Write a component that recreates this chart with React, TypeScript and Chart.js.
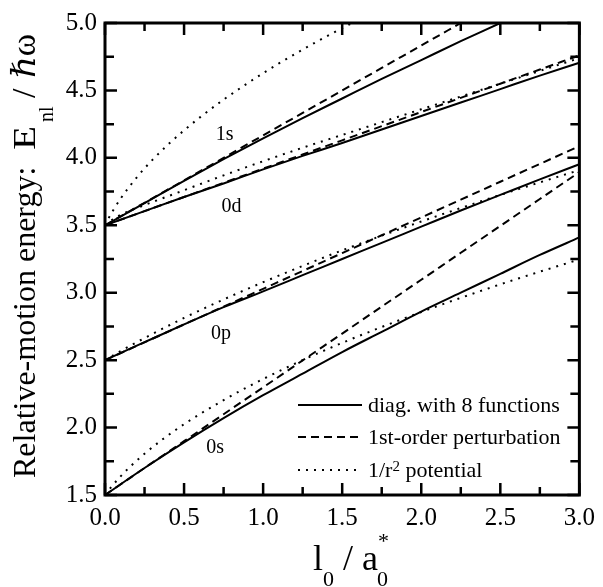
import React, { useEffect, useRef } from 'react';
import { Chart, registerables } from 'chart.js';

Chart.register(...registerables);

// ---------- data ----------
const X_GRID = [0, 0.25, 0.5, 0.75, 1, 1.25, 1.5, 1.75, 2, 2.25, 2.5, 2.75, 3];

// diag. with 8 functions (solid)
const DIAG_0S = [1.5, 1.7, 1.89, 2.07, 2.24, 2.4, 2.56, 2.71, 2.86, 3.0, 3.14, 3.28, 3.41];
const DIAG_0P = [2.5, 2.633, 2.765, 2.893, 3.01, 3.13, 3.25, 3.37, 3.49, 3.61, 3.725, 3.84, 3.953];
const DIAG_0D = [3.5, 3.605, 3.71, 3.81, 3.915, 4.015, 4.11, 4.21, 4.31, 4.41, 4.51, 4.61, 4.705];
const DIAG_1S = [3.5, 3.665, 3.83, 3.99, 4.145, 4.295, 4.44, 4.585, 4.725, 4.865, 5.0, 5.14, 5.28];

// 1st-order perturbation (dashed)
const PERT_0S = [1.5, 1.7, 1.899, 2.099, 2.298, 2.498, 2.697, 2.897, 3.096, 3.296, 3.495, 3.695, 3.894];
const PERT_0P = [2.5, 2.632, 2.765, 2.897, 3.029, 3.161, 3.294, 3.426, 3.558, 3.69, 3.823, 3.955, 4.087];
const PERT_0D = [3.5, 3.605, 3.71, 3.815, 3.92, 4.025, 4.13, 4.235, 4.34, 4.445, 4.55, 4.655, 4.76];
const PERT_1S = [3.5, 3.667, 3.833, 4.0, 4.167, 4.333, 4.5, 4.667, 4.833, 5.0, 5.167, 5.333, 5.5];

// 1/r^2 potential (dotted)
const POT_0S_X = [0, 0.02, 0.05, 0.1, 0.15, 0.25, 0.375, 0.5, 0.75, 1.0, 1.25, 1.5, 1.75, 2.0, 2.25, 2.5, 2.75, 3.0];
const POT_0S_Y = [1.5, 1.531, 1.574, 1.64, 1.7, 1.806, 1.922, 2.025, 2.204, 2.36, 2.5, 2.628, 2.746, 2.857, 2.962, 3.062, 3.156, 3.247];
const POT_0P_X = [0, 0.1, 0.25, 0.5, 0.75, 1.0, 1.25, 1.5, 1.75, 2.0, 2.25, 2.5, 2.75, 3.0];
const POT_0P_Y = [2.5, 2.568, 2.664, 2.813, 2.95, 3.078, 3.199, 3.314, 3.423, 3.528, 3.628, 3.725, 3.818, 3.909];
const POT_0D_X = [0, 0.05, 0.1, 0.15, 0.25, 0.5, 0.75, 1.0, 1.25, 1.5, 1.75, 2.0, 2.25, 2.5, 2.75, 3.0];
const POT_0D_Y = [3.5, 3.545, 3.578, 3.605, 3.65, 3.76, 3.87, 3.975, 4.075, 4.17, 4.265, 4.36, 4.455, 4.55, 4.645, 4.74];
const POT_1S_X = [0, 0.02, 0.05, 0.1, 0.2, 0.3, 0.4, 0.5, 0.6, 0.75, 0.9, 1.0, 1.1, 1.25, 1.4, 1.5, 1.6];
const POT_1S_Y = [3.5, 3.546, 3.608, 3.7, 3.854, 3.985, 4.1, 4.204, 4.3, 4.432, 4.552, 4.628, 4.7, 4.803, 4.9, 4.962, 5.022];

// state labels
const STATE_LABELS = ['1s', '0d', '0p', '0s'];
const STATE_LABEL_X = [0.7, 0.7375, 0.67, 0.64];
const STATE_LABEL_Y = [4.136, 3.602, 2.66, 1.808];

// legend
const LEGEND_LABELS = ['diag. with 8 functions', '1st-order perturbation', '1/r\u00B2 potential'];

const X_MIN = 0, X_MAX = 3, Y_MIN = 1.5, Y_MAX = 5;

// ---------- styles ----------
const SERIF = '"Liberation Serif", "Times New Roman", "DejaVu Serif", serif';
const f = (size: number) => `${size}px ${SERIF}`;
const DASH_SOLID: number[] = [];
const DASH_DASHED = [8, 5];
const DASH_DOTTED = [2, 6];
const LEGEND_DASHES = [DASH_SOLID, DASH_DASHED, DASH_DOTTED];

const isMajor = (v: number) => Math.abs(v * 2 - Math.round(v * 2)) < 1e-6;

const pts = (xs: number[], ys: number[]) => xs.map((x, i) => ({ x, y: ys[i] }));

function mkDataset(label: string, data: { x: number; y: number }[], dash: number[]) {
  return {
    label,
    data,
    borderColor: '#000',
    backgroundColor: '#000',
    borderWidth: 2,
    borderDash: dash,
    pointRadius: 0,
    fill: false,
    cubicInterpolationMode: 'monotone' as const,
  };
}

function drawFit(ctx: CanvasRenderingContext2D, text: string, x: number, y: number, size: number, targetW?: number) {
  ctx.font = f(size);
  const w = ctx.measureText(text).width;
  const sx = targetW ? targetW / w : 1;
  ctx.save();
  ctx.translate(x, y);
  ctx.scale(sx, 1);
  ctx.fillText(text, 0, 0);
  ctx.restore();
}

const decorPlugin = {
  id: 'decor',
  afterDraw(chart: any) {
    const ctx = chart.ctx as CanvasRenderingContext2D;
    const { left, right, top, bottom } = chart.chartArea;
    const xs = chart.scales.x;
    const ys = chart.scales.y;
    ctx.save();
    ctx.strokeStyle = '#000';
    ctx.fillStyle = '#000';
    ctx.setLineDash([]);

    // inward ticks on all four sides
    ctx.lineWidth = 2.5;
    ctx.beginPath();
    for (const t of xs.ticks) {
      const p = xs.getPixelForValue(t.value);
      const len = isMajor(t.value) ? 12 : 8;
      ctx.moveTo(p, bottom);
      ctx.lineTo(p, bottom - len);
      ctx.moveTo(p, top);
      ctx.lineTo(p, top + len);
    }
    for (const t of ys.ticks) {
      const p = ys.getPixelForValue(t.value);
      const len = isMajor(t.value) ? 12 : 9;
      ctx.moveTo(left, p);
      ctx.lineTo(left + len, p);
      ctx.moveTo(right, p);
      ctx.lineTo(right - len, p);
    }
    ctx.stroke();

    // frame
    ctx.lineWidth = 3;
    ctx.strokeRect(left, top, right - left, bottom - top);

    // state labels
    ctx.font = f(20);
    ctx.textAlign = 'left';
    ctx.textBaseline = 'alphabetic';
    STATE_LABELS.forEach((s, i) => {
      ctx.fillText(s, xs.getPixelForValue(STATE_LABEL_X[i]), ys.getPixelForValue(STATE_LABEL_Y[i]));
    });

    // legend
    const lx0 = left + 193;
    const lx1 = left + 257;
    const tx = left + 263;
    const rowsY = [bottom - 90, bottom - 58, bottom - 25];
    LEGEND_LABELS.forEach((label, i) => {
      const y = rowsY[i];
      ctx.save();
      ctx.lineWidth = 2;
      ctx.setLineDash(LEGEND_DASHES[i]);
      ctx.beginPath();
      ctx.moveTo(lx0, y);
      ctx.lineTo(lx1, y);
      ctx.stroke();
      ctx.restore();
      const parts = label.split('\u00B2');
      let x = tx;
      ctx.font = f(22);
      ctx.fillText(parts[0], x, y + 7);
      x += ctx.measureText(parts[0]).width;
      if (parts.length > 1) {
        ctx.font = f(15);
        ctx.fillText('2', x, y + 1);
        x += ctx.measureText('2').width;
        ctx.font = f(22);
        ctx.fillText(parts[1], x, y + 7);
      }
    });

    // x title: l_0 / a*_0
    {
      const base = bottom + 75;
      const subBase = bottom + 91;
      let x = left + 208;
      ctx.font = f(36);
      ctx.fillText('l', x, base);
      x += ctx.measureText('l').width;
      ctx.font = f(22);
      ctx.fillText('0', x, subBase);
      x += ctx.measureText('0').width;
      ctx.font = f(36);
      ctx.fillText(' / ', x, base);
      x += ctx.measureText(' / ').width;
      ctx.fillText('a', x, base);
      x += ctx.measureText('a').width;
      ctx.font = f(22);
      ctx.fillText('*', x, bottom + 53);
      ctx.fillText('0', x - 1, subBase);
    }

    // y title (rotated)
    {
      ctx.save();
      ctx.translate(left - 70, bottom - 17);
      ctx.rotate(-Math.PI / 2);
      ctx.textAlign = 'left';
      ctx.textBaseline = 'alphabetic';
      drawFit(ctx, 'Relative-motion energy:', 0, 0, 32);
      drawFit(ctx, 'E', 328, 0, 32, 24);
      drawFit(ctx, 'nl', 356, 18, 20);
      drawFit(ctx, '/', 380, 0, 34);
      drawFit(ctx, '\u210F\u03C9', 400, 0, 33, 44);
      ctx.restore();
    }

    ctx.restore();
  },
};

export default function App() {
  const ref = useRef<HTMLCanvasElement | null>(null);

  useEffect(() => {
    if (!ref.current) return;
    const datasets = [
      mkDataset('diag 0s', pts(X_GRID, DIAG_0S), DASH_SOLID),
      mkDataset('diag 0p', pts(X_GRID, DIAG_0P), DASH_SOLID),
      mkDataset('diag 0d', pts(X_GRID, DIAG_0D), DASH_SOLID),
      mkDataset('diag 1s', pts(X_GRID, DIAG_1S), DASH_SOLID),
      mkDataset('pert 0s', pts(X_GRID, PERT_0S), DASH_DASHED),
      mkDataset('pert 0p', pts(X_GRID, PERT_0P), DASH_DASHED),
      mkDataset('pert 0d', pts(X_GRID, PERT_0D), DASH_DASHED),
      mkDataset('pert 1s', pts(X_GRID, PERT_1S), DASH_DASHED),
      mkDataset('pot 0s', pts(POT_0S_X, POT_0S_Y), DASH_DOTTED),
      mkDataset('pot 0p', pts(POT_0P_X, POT_0P_Y), DASH_DOTTED),
      mkDataset('pot 0d', pts(POT_0D_X, POT_0D_Y), DASH_DOTTED),
      mkDataset('pot 1s', pts(POT_1S_X, POT_1S_Y), DASH_DOTTED),
    ];
    const tickFont = { family: SERIF, size: 25 };
    const chart = new Chart(ref.current, {
      type: 'line',
      data: { datasets: datasets as any },
      options: {
        responsive: false,
        animation: false,
        devicePixelRatio: 1,
        layout: { padding: { left: 0, right: 18, top: 17, bottom: 0 } },
        plugins: { legend: { display: false }, tooltip: { enabled: false } },
        scales: {
          x: {
            type: 'linear',
            min: X_MIN,
            max: X_MAX,
            afterFit: (s: any) => { s.height = 92; },
            grid: { display: false, drawTicks: false },
            border: { display: false },
            ticks: {
              stepSize: 0.25,
              autoSkip: false,
              maxRotation: 0,
              padding: 8,
              color: '#000',
              font: tickFont,
              callback: (v: any) => (isMajor(Number(v)) ? Number(v).toFixed(1) : ''),
            },
          },
          y: {
            type: 'linear',
            min: Y_MIN,
            max: Y_MAX,
            afterFit: (s: any) => { s.width = 105; },
            grid: { display: false, drawTicks: false },
            border: { display: false },
            ticks: {
              stepSize: 0.25,
              autoSkip: false,
              padding: 8,
              color: '#000',
              font: tickFont,
              callback: (v: any) => (isMajor(Number(v)) ? Number(v).toFixed(1) : ''),
            },
          },
        },
      },
      plugins: [decorPlugin],
    });
    return () => chart.destroy();
  }, []);

  return (
    <div style={{ position: 'absolute', left: 0, top: 0, width: 603, height: 587, background: '#fff' }}>
      <canvas ref={ref} width={603} height={587} style={{ display: 'block' }} />
    </div>
  );
}
